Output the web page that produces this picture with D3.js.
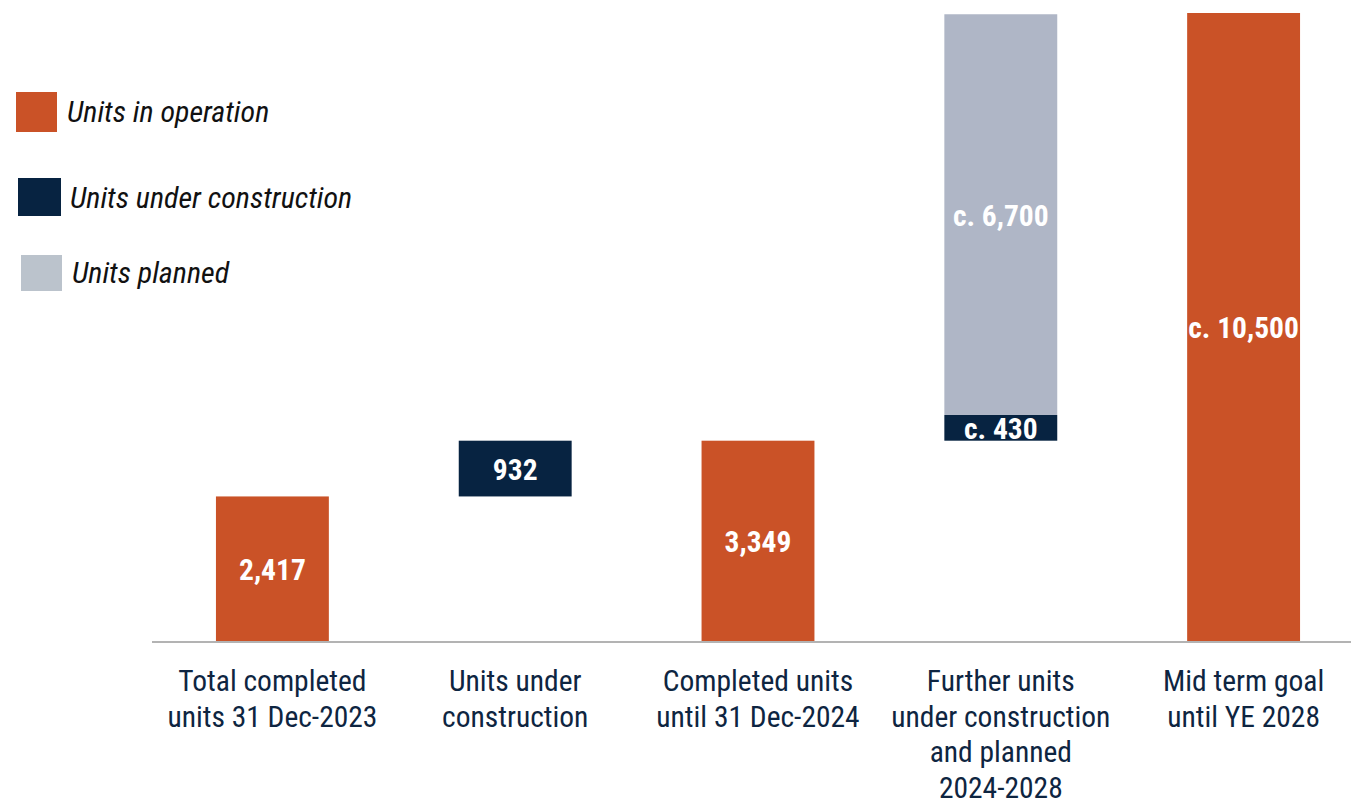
<!DOCTYPE html>
<html>
<head>
<meta charset="utf-8">
<script src="https://d3js.org/d3.v7.min.js"></script>
<style>
  body { margin: 0; background: #fff; }
  svg { display: block; }
</style>
</head>
<body>
<div id="chart"></div>
<script>
  // categories (x axis), one line per array entry
  const categories = [
    ["Total completed", "units 31 Dec-2023"],
    ["Units under", "construction"],
    ["Completed units", "until 31 Dec-2024"],
    ["Further units", "under construction", "and planned", "2024-2028"],
    ["Mid term goal", "until YE 2028"]
  ];
  // waterfall: where each column starts, then the segments stacked on it
  const floatBase    = [0, 2417, 0, 3349, 0];
  const operation    = [2417, 0, 3349, 0, 10500];
  const construction = [0, 932, 0, 430, 0];
  const planned      = [0, 0, 0, 6700, 0];
  // approximate values get a "c." prefix
  const approx       = [false, false, false, true, true];

  const seriesNames = ["Units in operation", "Units under construction", "Units planned"];
  const seriesData  = [operation, construction, planned];
  const barColors   = ["#CA5227", "#072341", "#AFB6C6"];
  const legendColors = ["#CA5227", "#072341", "#BBC3CC"];

  const width = 1351, height = 803;
  const narrow = '"Liberation Sans Narrow", "Arial Narrow", "Roboto Condensed", sans-serif';

  const svg = d3.select("#chart")
    .append("svg")
      .attr("width", width)
      .attr("height", height);

  // scales
  const x = d3.scaleBand()
    .domain(d3.range(categories.length))
    .range([151, 1365])
    .paddingInner(0.535)
    .paddingOuter(0.2675);

  const y = d3.scaleLinear()
    .domain([0, 10500])
    .range([641, 13]);

  // build segments: [col, series, y0, y1]
  const segments = [];
  categories.forEach((c, i) => {
    let acc = floatBase[i];
    seriesData.forEach((s, k) => {
      if (s[i] > 0) {
        segments.push({ col: i, series: k, y0: acc, y1: acc + s[i], value: s[i] });
        acc += s[i];
      }
    });
  });

  // bars
  svg.append("g")
    .selectAll("rect")
    .data(segments)
    .join("rect")
      .attr("x", d => x(d.col))
      .attr("width", x.bandwidth())
      .attr("y", d => y(d.y1))
      .attr("height", d => y(d.y0) - y(d.y1))
      .attr("fill", d => barColors[d.series]);

  // value labels in the middle of each segment
  const fmt = d3.format(",");
  svg.append("g")
    .selectAll("text")
    .data(segments)
    .join("text")
      .attr("x", d => x(d.col) + x.bandwidth() / 2)
      .attr("y", d => (y(d.y0) + y(d.y1)) / 2 + 11)
      .attr("text-anchor", "middle")
      .style("font-family", narrow)
      .style("font-weight", "bold")
      .style("font-size", "29.5px")
      .style("fill", "#fff")
      .text(d => (approx[d.col] ? "c. " : "") + fmt(d.value));

  // baseline
  svg.append("line")
    .attr("x1", 152).attr("x2", width)
    .attr("y1", y(0) + 1).attr("y2", y(0) + 1)
    .attr("stroke", "#B3B3B3")
    .attr("stroke-width", 2);

  // category labels
  const xAxis = svg.append("g");
  xAxis.selectAll("text")
    .data(categories)
    .join("text")
      .attr("x", (d, i) => x(i) + x.bandwidth() / 2)
      .attr("y", 691)
      .attr("text-anchor", "middle")
      .style("font-family", narrow)
      .style("font-size", "29.5px")
      .style("fill", "#0E2541")
    .selectAll("tspan")
    .data(d => d)
    .join("tspan")
      .attr("x", function() { return this.parentNode.getAttribute("x"); })
      .attr("dy", (d, j) => j === 0 ? 0 : 35.5)
      .text(d => d);

  // legend (squares are slightly staggered, as in the original)
  const legendPos = [
    { sx: 16, sy: 92, sw: 41, sh: 40, tx: 67, ty: 122 },
    { sx: 18, sy: 178, sw: 43, sh: 38, tx: 70, ty: 208 },
    { sx: 21, sy: 255, sw: 41, sh: 36, tx: 72, ty: 283 }
  ];
  const legend = svg.append("g")
    .selectAll("g")
    .data(seriesNames)
    .join("g");
  legend.append("rect")
    .attr("x", (d, i) => legendPos[i].sx)
    .attr("y", (d, i) => legendPos[i].sy)
    .attr("width", (d, i) => legendPos[i].sw)
    .attr("height", (d, i) => legendPos[i].sh)
    .attr("fill", (d, i) => legendColors[i]);
  legend.append("text")
    .attr("x", (d, i) => legendPos[i].tx)
    .attr("y", (d, i) => legendPos[i].ty)
    .style("font-family", narrow)
    .style("font-style", "italic")
    .style("font-size", "30px")
    .style("fill", "#111")
    .text(d => d);
</script>
</body>
</html>
